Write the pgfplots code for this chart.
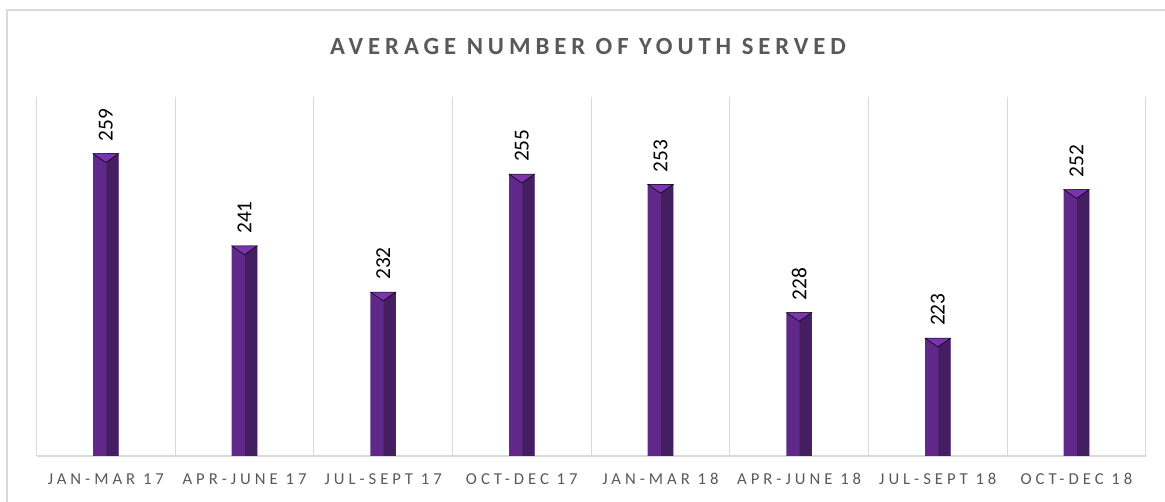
\documentclass[border=0pt]{standalone}
\usepackage{fontspec}
\setmainfont{Carlito}
\newfontfamily\tickfont[LetterSpace=24]{Carlito}
\newfontfamily\titlefont[LetterSpace=20]{Carlito}
\usepackage{pgfplots}
\pgfplotsset{compat=1.18}
\definecolor{gridgray}{HTML}{D9D9D9}
\definecolor{barlight}{HTML}{5F2889}
\definecolor{bardark}{HTML}{441E60}
\definecolor{bartop}{HTML}{7A35AE}
\definecolor{txtgray}{HTML}{595959}
\begin{document}
\begin{tikzpicture}
\begin{scope}[x=0.75pt,y=0.75pt]
\path[use as bounding box] (0,0) rectangle (1165,502);
\draw[gridgray, line width=1.5pt] (7,0) -- (7,492) -- (1165,492);
\node[font=\titlefont\bfseries\fontsize{18.5}{21}\selectfont, text=txtgray, inner sep=0pt] at (588,455) {AVERAGE NUMBER OF YOUTH SERVED};
\end{scope}
\begin{axis}[
  at={(27.375pt,34.5pt)}, anchor=south west,
  scale only axis, width=832pt, height=269pt,
  xmin=-0.5, xmax=7.5, ymin=200, ymax=270,
  axis x line=bottom, axis y line=none,
  x axis line style={-, draw=gridgray, line width=0.9pt},
  xtick={0,...,7},
  xticklabels={JAN-MAR 17,APR-JUNE 17,JUL-SEPT 17,OCT-DEC 17,JAN-MAR 18,APR-JUNE 18,JUL-SEPT 18,OCT-DEC 18},
  major tick length=0pt,
  minor xtick={-0.5,0.5,...,7.5},
  minor tick length=0pt,
  minor x grid style={gridgray, line width=0.9pt},
  xminorgrids=true,
  xticklabel style={font=\tickfont\fontsize{12.5}{14}\selectfont, text=txtgray, inner sep=0pt, anchor=north, yshift=-13pt},
  clip=false,
]
\addplot[ybar, bar width=0.184, bar shift=0, fill=barlight, draw=none,
  nodes near coords, /pgf/number format/assume math mode=true,
  every node near coord/.append style={rotate=90, anchor=west, inner xsep=9pt, inner ysep=0pt, font=\fontsize{16}{18}\selectfont, text=black}]
  coordinates {(0,259) (1,241) (2,232) (3,255) (4,253) (5,228) (6,223) (7,252)};
\addplot[ybar, bar width=0.0865, bar shift=0.047, fill=bardark, draw=none]
  coordinates {(0,259) (1,241) (2,232) (3,255) (4,253) (5,228) (6,223) (7,252)};
\addplot[only marks, mark=triangle*, mark size=11pt,
  mark options={draw=none, fill=bartop, yshift=-2.2pt, yscale=0.4, rotate=180}]
  coordinates {(0,259) (1,241) (2,232) (3,255) (4,253) (5,228) (6,223) (7,252)};
\end{axis}
\end{tikzpicture}
\end{document}
